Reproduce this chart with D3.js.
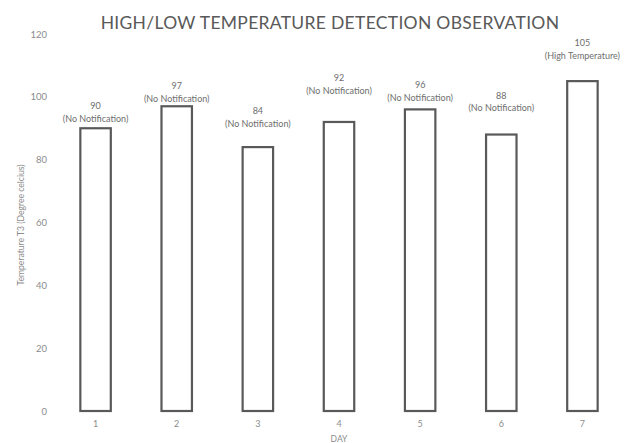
<!DOCTYPE html>
<html>
<head>
<meta charset="utf-8">
<script src="https://cdn.jsdelivr.net/npm/d3@7"></script>
<style>
  body { margin: 0; background: #fff; }
  text { font-family: Lato, "Open Sans", sans-serif; }
</style>
</head>
<body>
<div id="chart"></div>
<script>
// data
const days = ["1", "2", "3", "4", "5", "6", "7"];
const temps = [90, 97, 84, 92, 96, 88, 105];
const notes = ["(No Notification)", "(No Notification)", "(No Notification)", "(No Notification)",
               "(No Notification)", "(No Notification)", "(High Temperature)"];
const yTicks = [0, 20, 40, 60, 80, 100, 120];

const W = 625, H = 443;
const margin = {top: 34, right: 2, bottom: 32, left: 55};
const width = W - margin.left - margin.right,
      height = H - margin.top - margin.bottom;

const svg = d3.select("#chart")
  .append("svg")
    .attr("width", W)
    .attr("height", H);

const g = svg.append("g")
  .attr("transform", `translate(${margin.left}, ${margin.top})`);

const x = d3.scaleBand()
  .domain(days)
  .range([0, width])
  .paddingInner(0.6)
  .paddingOuter(0.3);

const y = d3.scaleLinear()
  .domain([0, 120])
  .range([height, 0]);

// y axis (labels only)
const yAxis = g.append("g")
  .call(d3.axisLeft(y).tickValues(yTicks).tickSize(0).tickPadding(8));
yAxis.select(".domain").remove();
yAxis.selectAll("text")
  .attr("fill", "#8c8c8c")
  .style("font-size", "9.5px");

// x axis (labels only)
const xAxis = g.append("g")
  .attr("transform", `translate(0, ${height})`)
  .call(d3.axisBottom(x).tickSize(0).tickPadding(10));
xAxis.select(".domain").remove();
xAxis.selectAll("text")
  .attr("fill", "#8c8c8c")
  .style("font-size", "9px");

// bars
g.selectAll(".bar")
  .data(temps)
  .enter()
  .append("rect")
    .attr("class", "bar")
    .attr("x", (d, i) => x(days[i]) + 1)
    .attr("y", d => y(d))
    .attr("width", x.bandwidth() - 2)
    .attr("height", d => height - y(d))
    .attr("fill", "#fff")
    .attr("stroke", "#595959")
    .attr("stroke-width", 2.2);

// labels were nudged by hand in the original, extra lift in px per bar
const lift = [0, -2, 14, 22, 2, 17, 16];

const labels = g.selectAll(".lbl")
  .data(temps)
  .enter()
  .append("text")
    .attr("class", "lbl")
    .attr("text-anchor", "middle")
    .attr("fill", "#6e6e6e")
    .style("font-size", "9px")
    .attr("x", (d, i) => x(days[i]) + x.bandwidth() / 2)
    .attr("y", (d, i) => y(d) - 19 - lift[i]);

labels.append("tspan")
  .text(d => d);
labels.append("tspan")
  .attr("x", (d, i) => x(days[i]) + x.bandwidth() / 2)
  .attr("dy", 12.8)
  .text((d, i) => notes[i]);

// title
svg.append("text")
  .attr("x", 330)
  .attr("y", 29)
  .attr("text-anchor", "middle")
  .attr("fill", "#595959")
  .style("font-size", "17.5px")
  .style("letter-spacing", "0.3px")
  .text("HIGH/LOW TEMPERATURE DETECTION OBSERVATION");

// axis titles
svg.append("text")
  .attr("transform", "translate(24, 225) rotate(-90)")
  .attr("text-anchor", "middle")
  .attr("fill", "#8c8c8c")
  .style("font-size", "8.6px")
  .text("Temperature T3 (Degree celcius)");

svg.append("text")
  .attr("x", 339)
  .attr("y", 442)
  .attr("text-anchor", "middle")
  .attr("fill", "#8c8c8c")
  .style("font-size", "8.5px")
  .text("DAY");
</script>
</body>
</html>
